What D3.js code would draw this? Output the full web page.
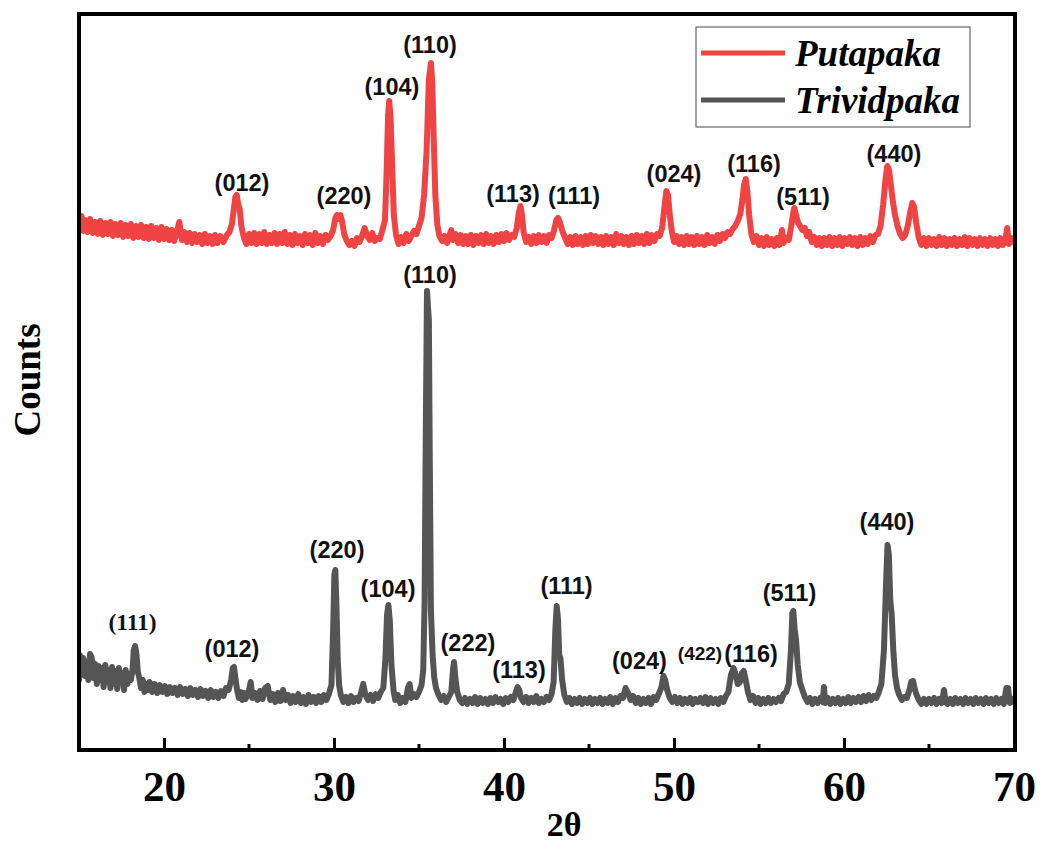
<!DOCTYPE html>
<html>
<head>
<meta charset="utf-8">
<script src="https://cdn.jsdelivr.net/npm/d3@7"></script>
<style>
  body { margin: 0; background: #fff; }
  svg { display: block; }
</style>
</head>
<body>
<script>
// XRD patterns, [2theta, counts]; Putapaka is stacked above Trividpaka
var putapaka = [
  [15.0,532],[15.05,520],[15.15,534],[15.25,519],[15.35,530],[15.5,518],[15.65,531],[15.8,517],[15.95,528],[16.1,516],
  [16.25,529],[16.4,515],[16.55,527],[16.7,516],[16.85,528],[17.0,514],[17.15,526],[17.3,515],[17.45,527],[17.6,513],
  [17.75,525],[17.9,514],[18.05,526],[18.2,512],[18.35,524],[18.5,513],[18.65,525],[18.8,512],[18.95,523],[19.1,511],
  [19.25,524],[19.4,512],[19.55,522],[19.7,510],[19.85,523],[20.0,511],[20.15,521],[20.3,510],[20.45,520],[20.6,509],
  [20.75,518],[20.9,528],[21.05,510],[21.2,518],[21.35,508],[21.5,517],[21.65,507],[21.8,516],[21.95,508],[22.1,515],
  [22.25,506],[22.4,516],[22.55,507],[22.7,514],[22.85,506],[23.0,515],[23.15,507],[23.3,514],[23.5,508],[23.7,515],
  [23.85,518],[24.0,526],[24.1,540],[24.2,553],[24.28,555],[24.36,546],[24.45,541],[24.55,524],[24.7,512],[24.85,506],
  [25.0,516],[25.15,507],[25.3,517],[25.45,506],[25.6,516],[25.75,507],[25.9,518],[26.05,506],[26.2,515],[26.35,507],
  [26.5,517],[26.65,506],[26.8,516],[26.95,507],[27.1,518],[27.25,506],[27.4,515],[27.55,505],[27.7,516],[27.85,507],
  [28.0,514],[28.15,505],[28.3,516],[28.45,507],[28.6,515],[28.75,505],[28.9,517],[29.05,507],[29.2,514],[29.35,506],
  [29.5,515],[29.65,510],[29.8,514],[29.95,520],[30.08,532],[30.18,535],[30.28,531],[30.38,535],[30.48,528],[30.6,516],
  [30.75,509],[30.9,505],[31.05,509],[31.2,504],[31.35,512],[31.5,508],[31.65,514],[31.8,522],[31.95,514],[32.1,510],
  [32.25,517],[32.4,509],[32.55,512],[32.7,511],[32.85,520],[33.0,530],[33.1,580],[33.18,635],[33.25,649],[33.33,632],
  [33.42,585],[33.52,535],[33.65,515],[33.8,506],[33.95,513],[34.1,507],[34.25,516],[34.4,509],[34.55,514],[34.7,519],
  [34.85,516],[35.0,524],[35.15,532],[35.3,555],[35.45,600],[35.58,670],[35.7,687],[35.78,668],[35.86,615],[35.96,555],
  [36.08,525],[36.2,514],[36.35,509],[36.5,514],[36.65,507],[36.8,515],[36.9,520],[37.0,510],[37.15,516],[37.3,507],
  [37.45,515],[37.6,506],[37.75,514],[37.9,506],[38.05,515],[38.2,505],[38.35,514],[38.5,507],[38.65,515],[38.8,506],
  [38.95,516],[39.1,507],[39.25,514],[39.4,506],[39.55,515],[39.7,508],[39.85,516],[40.0,509],[40.15,517],[40.3,510],
  [40.45,515],[40.6,513],[40.75,522],[40.88,538],[40.97,544],[41.06,535],[41.15,518],[41.3,508],[41.45,513],[41.6,506],
  [41.75,514],[41.9,507],[42.05,515],[42.2,508],[42.35,514],[42.5,507],[42.65,515],[42.8,512],[42.95,520],[43.08,530],
  [43.18,532],[43.3,527],[43.45,518],[43.6,512],[43.75,506],[43.9,513],[44.05,505],[44.2,514],[44.35,506],[44.5,513],
  [44.65,505],[44.8,514],[44.95,506],[45.1,515],[45.25,507],[45.4,514],[45.55,506],[45.7,513],[45.85,505],[46.0,514],
  [46.15,506],[46.3,513],[46.45,505],[46.6,516],[46.75,507],[46.9,514],[47.05,506],[47.2,513],[47.35,505],[47.5,514],
  [47.65,506],[47.8,515],[47.95,507],[48.1,514],[48.25,506],[48.4,516],[48.55,507],[48.7,515],[48.85,509],[49.0,516],
  [49.15,514],[49.3,522],[49.43,542],[49.55,559],[49.65,555],[49.75,535],[49.88,518],[50.0,508],[50.15,514],[50.3,506],
  [50.45,513],[50.6,505],[50.75,514],[50.9,506],[51.05,513],[51.2,505],[51.35,514],[51.5,506],[51.65,513],[51.8,505],
  [51.95,515],[52.1,507],[52.25,513],[52.4,506],[52.55,515],[52.7,509],[52.85,516],[53.0,512],[53.15,518],[53.3,516],
  [53.45,521],[53.6,524],[53.75,529],[53.9,536],[54.02,550],[54.12,565],[54.22,571],[54.32,558],[54.42,535],[54.55,516],
  [54.7,508],[54.85,514],[55.0,505],[55.15,512],[55.3,504],[55.45,513],[55.6,505],[55.75,511],[55.9,504],[56.05,512],
  [56.2,505],[56.35,520],[56.45,507],[56.6,512],[56.75,510],[56.88,522],[57.0,536],[57.08,542],[57.18,535],[57.3,527],
  [57.42,524],[57.55,520],[57.7,522],[57.82,514],[57.95,518],[58.1,508],[58.25,513],[58.4,505],[58.55,512],[58.7,504],
  [58.85,512],[59.0,505],[59.15,513],[59.3,504],[59.45,512],[59.6,505],[59.75,513],[59.9,504],[60.05,512],[60.2,506],
  [60.35,513],[60.5,505],[60.65,512],[60.8,504],[60.95,513],[61.1,505],[61.25,512],[61.4,506],[61.55,514],[61.7,508],
  [61.85,515],[62.0,516],[62.15,524],[62.3,545],[62.45,572],[62.55,584],[62.65,580],[62.75,566],[62.88,548],[63.0,535],
  [63.15,524],[63.3,516],[63.45,512],[63.6,515],[63.75,524],[63.9,538],[64.02,547],[64.12,543],[64.25,527],[64.4,512],
  [64.55,505],[64.7,512],[64.85,504],[65.0,512],[65.15,505],[65.3,511],[65.45,504],[65.6,513],[65.75,505],[65.9,512],
  [66.05,504],[66.2,511],[66.35,505],[66.5,512],[66.65,504],[66.8,511],[66.95,505],[67.1,513],[67.25,504],[67.4,512],
  [67.55,505],[67.7,511],[67.85,504],[68.0,512],[68.15,505],[68.3,511],[68.45,504],[68.6,512],[68.75,505],[68.9,511],
  [69.05,504],[69.2,512],[69.35,505],[69.5,510],[69.6,522],[69.7,506],[69.85,512],[70.0,508]
];

var trividpaka = [
  [15.0,70],[15.05,95],[15.15,78],[15.25,92],[15.35,74],[15.45,88],[15.55,70],[15.65,96],[15.75,92],[15.85,72],
  [15.95,86],[16.05,66],[16.15,84],[16.25,70],[16.35,82],[16.45,63],[16.55,85],[16.65,68],[16.75,80],[16.85,62],
  [16.95,83],[17.05,66],[17.15,79],[17.25,61],[17.35,82],[17.45,68],[17.55,77],[17.65,60],[17.75,80],[17.85,66],
  [17.95,76],[18.05,70],[18.15,80],[18.22,100],[18.3,104],[18.38,96],[18.46,78],[18.55,72],[18.65,62],[18.75,70],
  [18.85,58],[18.95,66],[19.05,60],[19.15,68],[19.3,58],[19.45,66],[19.6,57],[19.75,65],[19.9,58],[20.05,64],
  [20.2,56],[20.35,63],[20.5,57],[20.65,62],[20.8,55],[20.95,63],[21.1,56],[21.25,61],[21.4,54],[21.55,62],
  [21.7,55],[21.85,60],[22.0,53],[22.15,61],[22.3,54],[22.45,59],[22.6,52],[22.75,60],[22.9,53],[23.05,58],
  [23.2,52],[23.35,59],[23.5,54],[23.65,62],[23.8,60],[23.95,70],[24.05,82],[24.12,83],[24.2,72],[24.3,60],
  [24.4,52],[24.5,58],[24.6,50],[24.7,57],[24.8,51],[24.95,56],[25.1,68],[25.2,52],[25.35,57],[25.5,50],
  [25.65,59],[25.8,51],[25.95,62],[26.1,64],[26.25,50],[26.4,56],[26.55,48],[26.7,57],[26.85,49],[27.0,60],
  [27.15,50],[27.3,55],[27.45,47],[27.6,54],[27.75,48],[27.9,56],[28.05,47],[28.2,53],[28.35,46],[28.5,55],
  [28.65,48],[28.8,53],[28.95,47],[29.1,54],[29.25,48],[29.4,55],[29.55,50],[29.7,56],[29.85,65],[29.95,120],
  [30.02,175],[30.08,180],[30.15,140],[30.22,90],[30.3,65],[30.4,55],[30.55,48],[30.7,53],[30.85,47],[31.0,54],
  [31.15,48],[31.3,52],[31.45,49],[31.6,58],[31.72,66],[31.85,55],[32.0,50],[32.15,55],[32.3,49],[32.45,56],
  [32.6,52],[32.75,58],[32.9,62],[33.02,90],[33.12,135],[33.2,145],[33.28,130],[33.38,85],[33.5,60],[33.6,50],
  [33.75,55],[33.9,47],[34.05,52],[34.2,48],[34.35,62],[34.45,66],[34.55,52],[34.7,56],[34.85,53],[35.0,58],
  [35.15,65],[35.25,80],[35.33,150],[35.4,320],[35.47,459],[35.54,440],[35.58,430],[35.63,300],[35.7,140],[35.8,95],
  [35.9,72],[36.0,62],[36.15,55],[36.3,50],[36.45,54],[36.6,48],[36.75,53],[36.9,58],[37.0,80],[37.06,88],
  [37.14,72],[37.25,58],[37.4,50],[37.55,47],[37.7,52],[37.85,46],[38.0,51],[38.15,47],[38.3,53],[38.45,46],
  [38.6,52],[38.75,47],[38.9,51],[39.05,46],[39.2,52],[39.35,47],[39.5,53],[39.65,48],[39.8,51],[39.95,46],
  [40.1,52],[40.25,48],[40.4,53],[40.55,50],[40.7,58],[40.8,63],[40.9,60],[41.0,52],[41.15,48],[41.3,53],
  [41.45,47],[41.6,52],[41.75,48],[41.9,54],[42.05,47],[42.2,51],[42.35,48],[42.5,53],[42.65,50],[42.8,56],
  [42.92,68],[43.02,120],[43.1,144],[43.18,130],[43.25,95],[43.32,92],[43.42,70],[43.55,55],[43.7,48],[43.85,52],
  [44.0,46],[44.15,51],[44.3,47],[44.45,52],[44.6,46],[44.75,51],[44.9,47],[45.05,52],[45.2,46],[45.35,51],
  [45.5,47],[45.65,52],[45.8,46],[45.95,51],[46.1,47],[46.25,53],[46.4,46],[46.55,52],[46.7,48],[46.85,54],
  [47.0,52],[47.15,62],[47.3,57],[47.45,50],[47.6,54],[47.75,47],[47.9,52],[48.05,46],[48.2,51],[48.35,47],
  [48.5,52],[48.65,46],[48.8,53],[48.95,50],[49.1,56],[49.25,62],[49.38,74],[49.48,70],[49.6,60],[49.75,52],
  [49.9,48],[50.05,53],[50.2,47],[50.35,52],[50.5,46],[50.65,51],[50.8,47],[50.95,52],[51.1,46],[51.25,51],
  [51.4,48],[51.55,52],[51.7,47],[51.85,53],[52.0,46],[52.15,52],[52.3,47],[52.45,51],[52.6,46],[52.75,52],
  [52.9,48],[53.05,54],[53.2,58],[53.35,75],[53.5,82],[53.62,76],[53.75,66],[53.88,68],[54.0,77],[54.1,79],
  [54.22,70],[54.35,58],[54.5,50],[54.65,54],[54.8,47],[54.95,52],[55.1,46],[55.25,51],[55.4,47],[55.55,52],
  [55.7,47],[55.85,51],[56.0,48],[56.15,52],[56.3,49],[56.45,56],[56.6,58],[56.75,66],[56.88,100],[56.96,137],
  [57.02,139],[57.1,120],[57.18,110],[57.28,85],[57.4,68],[57.55,60],[57.7,53],[57.85,48],[58.0,52],[58.15,46],
  [58.3,51],[58.45,47],[58.6,52],[58.75,48],[58.82,63],[58.9,47],[59.05,52],[59.2,46],[59.35,51],[59.5,47],
  [59.65,52],[59.8,46],[59.95,51],[60.1,47],[60.25,53],[60.4,47],[60.55,52],[60.7,48],[60.85,53],[61.0,48],
  [61.15,54],[61.3,49],[61.45,55],[61.6,50],[61.75,54],[61.9,52],[62.05,58],[62.2,66],[62.35,100],[62.48,170],
  [62.56,205],[62.64,195],[62.72,150],[62.8,137],[62.9,100],[63.0,75],[63.12,62],[63.25,55],[63.4,50],[63.55,53],
  [63.7,52],[63.85,60],[63.95,68],[64.06,69],[64.15,62],[64.25,56],[64.4,50],[64.55,46],[64.7,51],[64.85,46],
  [65.0,51],[65.15,47],[65.3,52],[65.45,46],[65.6,51],[65.75,47],[65.88,60],[65.98,48],[66.1,46],[66.25,51],
  [66.4,46],[66.55,52],[66.7,47],[66.85,51],[67.0,46],[67.15,52],[67.3,47],[67.45,51],[67.6,46],[67.75,52],
  [67.9,47],[68.05,51],[68.2,46],[68.35,52],[68.5,47],[68.65,51],[68.8,46],[68.95,52],[69.1,47],[69.25,51],
  [69.4,46],[69.55,62],[69.65,62],[69.75,47],[69.9,51],[70.0,48]
];

// peak labels: [text, 2theta (centre), counts (text baseline)]
var putapakaPeaks = [
  ["(012)",24.59,559],["(220)",30.59,546],["(104)",33.41,655],["(110)",35.65,697],["(113)",40.53,548],
  ["(111)",44.12,546],["(024)",50.0,568],["(116)",54.71,578],["(511)",57.59,545],["(440)",62.94,588]
];
var trividpakaPeaks = [
  ["(111)",18.15,120],["(012)",24.0,93],["(220)",30.18,192],["(104)",33.18,153],["(110)",35.65,467],
  ["(222)",37.88,99],["(113)",40.88,72],["(111)",43.68,156],["(024)",47.97,81],["(422)",51.53,90],
  ["(116)",54.53,88],["(511)",56.79,149],["(440)",62.53,220]
];

var seriesNames = ["Putapaka", "Trividpaka"];
var seriesColors = ["#f04343", "#555555"];
var majorTicks = [20, 30, 40, 50, 60, 70];
var minorTicks = [25, 35, 45, 55, 65];

var width = 1041, height = 845;
var plotLeft = 79, plotRight = 1015, plotTop = 14, plotBottom = 750;

var svg = d3.select("body").append("svg")
  .attr("width", width)
  .attr("height", height);

var x = d3.scaleLinear().domain([15, 70]).range([plotLeft, 1014]);
var y = d3.scaleLinear().domain([0, 736]).range([plotBottom, plotTop]);

svg.append("clipPath").attr("id", "plot")
  .append("rect")
  .attr("x", plotLeft).attr("y", plotTop)
  .attr("width", plotRight - plotLeft).attr("height", plotBottom - plotTop);

var line = d3.line()
  .x(function(d) { return x(d[0]); })
  .y(function(d) { return y(d[1]); });

var plot = svg.append("g").attr("clip-path", "url(#plot)");
[putapaka, trividpaka].forEach(function(s, i) {
  plot.append("path")
    .datum(s)
    .attr("d", line)
    .attr("fill", "none")
    .attr("stroke", seriesColors[i])
    .attr("stroke-width", 6)
    .attr("stroke-linejoin", "round")
    .attr("stroke-linecap", "round");
});

// peak labels
var labels = svg.append("g");
function addLabels(peaks) {
  labels.selectAll(null)
    .data(peaks)
    .enter()
    .append("text")
    .attr("x", function(d) { return x(d[1]); })
    .attr("y", function(d) { return y(d[2]); })
    .attr("text-anchor", "middle")
    .attr("font-family", function(d, i) {
      return (peaks === trividpakaPeaks && i === 0) ? "'Liberation Serif', 'Times New Roman', serif" : "'Liberation Sans', Arial, sans-serif";
    })
    .attr("font-weight", "bold")
    .attr("font-size", function(d) { return d[0] === "(422)" ? 19 : 23.5; })
    .attr("fill", "#111")
    .text(function(d) { return d[0]; });
}
addLabels(putapakaPeaks);
addLabels(trividpakaPeaks);

// x axis, ticks pointing inward
var xAxis = d3.axisBottom(x)
  .tickValues(majorTicks)
  .tickSize(-12)
  .tickPadding(20)
  .tickFormat(d3.format("d"));

var gx = svg.append("g")
  .attr("transform", "translate(0," + plotBottom + ")")
  .call(xAxis);
gx.select(".domain").remove();
gx.selectAll(".tick line").attr("stroke", "#000").attr("stroke-width", 3);
gx.selectAll(".tick text")
  .attr("font-family", "'Liberation Serif', 'Times New Roman', serif")
  .attr("font-weight", "bold")
  .attr("font-size", 43)
  .attr("fill", "#000");

gx.selectAll(".minor")
  .data(minorTicks)
  .enter()
  .append("line")
  .attr("x1", function(d) { return x(d); })
  .attr("x2", function(d) { return x(d); })
  .attr("y1", 0)
  .attr("y2", -6)
  .attr("stroke", "#000")
  .attr("stroke-width", 3);

// frame
svg.append("rect")
  .attr("x", plotLeft).attr("y", plotTop)
  .attr("width", plotRight - plotLeft).attr("height", plotBottom - plotTop)
  .attr("fill", "none")
  .attr("stroke", "#000")
  .attr("stroke-width", 4);

// axis titles
svg.append("text")
  .attr("x", 564).attr("y", 836)
  .attr("text-anchor", "middle")
  .attr("font-family", "'Liberation Serif', 'Times New Roman', serif")
  .attr("font-weight", "bold")
  .attr("font-size", 34)
  .text("2θ");

svg.append("text")
  .attr("transform", "translate(40,380) rotate(-90)")
  .attr("text-anchor", "middle")
  .attr("font-family", "'Liberation Serif', 'Times New Roman', serif")
  .attr("font-weight", "bold")
  .attr("font-size", 37)
  .text("Counts");

// legend
var legend = svg.append("g");
legend.append("rect")
  .attr("x", 696).attr("y", 27)
  .attr("width", 274).attr("height", 100)
  .attr("fill", "#fff")
  .attr("stroke", "#666")
  .attr("stroke-width", 1.2);

var item = legend.selectAll(".item")
  .data(seriesNames)
  .enter()
  .append("g")
  .attr("transform", function(d, i) { return "translate(0," + (53 + i * 47) + ")"; });
item.append("line")
  .attr("x1", 701).attr("x2", 785)
  .attr("stroke", function(d, i) { return seriesColors[i]; })
  .attr("stroke-width", 5);
item.append("text")
  .attr("x", 795).attr("y", 13)
  .attr("font-family", "'Liberation Serif', 'Times New Roman', serif")
  .attr("font-weight", "bold")
  .attr("font-style", "italic")
  .attr("font-size", 37)
  .text(function(d) { return d; });
</script>
</body>
</html>
